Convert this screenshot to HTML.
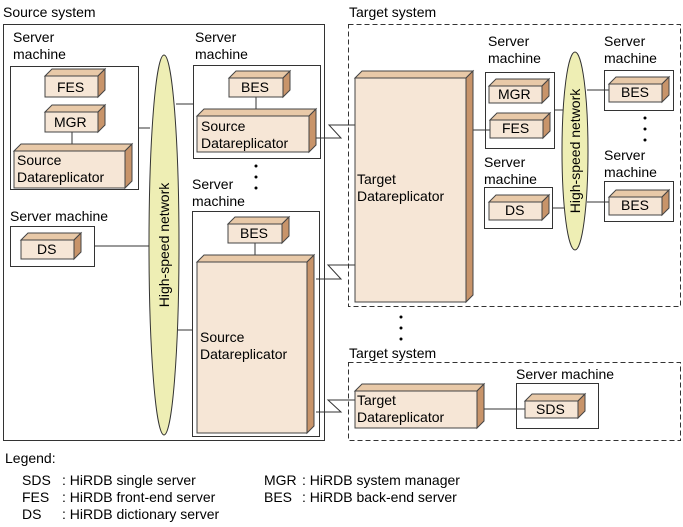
<!DOCTYPE html>
<html><head><style>body{margin:0;background:#fff}svg{display:block}text{font-family:"Liberation Sans",sans-serif;font-size:14px;fill:#000}</style></head><body>
<svg width="683" height="527" viewBox="0 0 683 527" xmlns="http://www.w3.org/2000/svg">
<g stroke="#333" stroke-width="1" fill="none">
<rect x="3.5" y="24.5" width="321" height="416"/>
<rect x="10.5" y="66.5" width="128" height="123"/>
<rect x="10.5" y="226.5" width="84" height="40"/>
<rect x="193.5" y="65.5" width="127" height="93"/>
<rect x="192.5" y="211.5" width="127" height="225"/>
<rect x="348.5" y="24.5" width="332" height="282" stroke-dasharray="5,3"/>
<rect x="348.5" y="362.5" width="332" height="78" stroke-dasharray="5,3"/>
<rect x="485.5" y="72.5" width="69" height="76"/>
<rect x="484.5" y="187.5" width="68" height="41"/>
<rect x="604.5" y="70.5" width="69" height="40"/>
<rect x="604.5" y="181.5" width="69" height="40"/>
<rect x="516.5" y="383.5" width="82" height="45"/>
<path d="M138 128H150M94 246H150M176 104H193M178 330H192M72 132V151M256 97V116M255 243V262M473 130H490M554 110H565M552 208H565M587 90H609M587 202H609M484 409H525"/>
<path d="M316 138H341L329 125H355M316 279H341L328 265H355M316 412H341L328 400H355"/>
</g>
<ellipse cx="164" cy="245" rx="15" ry="190" fill="#eeeeb4" stroke="#333"/>
<ellipse cx="575" cy="151" rx="13" ry="99" fill="#eeeeb4" stroke="#333"/>
<text transform="translate(169,245) rotate(-90)" text-anchor="middle">High-speed network</text>
<text transform="translate(580,151) rotate(-90)" text-anchor="middle">High-speed network</text>
<g stroke="#444" stroke-width="1">
<polygon points="45,76 52,69 105,69 98,76" fill="#e8c9a8"/><polygon points="98,76 105,69 105,90 98,97" fill="#c8946a"/><rect x="45" y="76" width="53" height="21" fill="#f6e6d6"/>
<polygon points="45,112 52,105 105,105 98,112" fill="#e8c9a8"/><polygon points="98,112 105,105 105,125 98,132" fill="#c8946a"/><rect x="45" y="112" width="53" height="20" fill="#f6e6d6"/>
<polygon points="14,151 21,144 132,144 125,151" fill="#e8c9a8"/><polygon points="125,151 132,144 132,181 125,188" fill="#c8946a"/><rect x="14" y="151" width="111" height="37" fill="#f6e6d6"/>
<polygon points="21,240 28,233 81,233 74,240" fill="#e8c9a8"/><polygon points="74,240 81,233 81,252 74,259" fill="#c8946a"/><rect x="21" y="240" width="53" height="19" fill="#f6e6d6"/>
<polygon points="229,78 236,71 290,71 283,78" fill="#e8c9a8"/><polygon points="283,78 290,71 290,90 283,97" fill="#c8946a"/><rect x="229" y="78" width="54" height="19" fill="#f6e6d6"/>
<polygon points="197,116 204,109 316,109 309,116" fill="#e8c9a8"/><polygon points="309,116 316,109 316,145 309,152" fill="#c8946a"/><rect x="197" y="116" width="112" height="36" fill="#f6e6d6"/>
<polygon points="228,224 235,217 289,217 282,224" fill="#e8c9a8"/><polygon points="282,224 289,217 289,236 282,243" fill="#c8946a"/><rect x="228" y="224" width="54" height="19" fill="#f6e6d6"/>
<polygon points="197,262 204,255 314,255 307,262" fill="#e8c9a8"/><polygon points="307,262 314,255 314,426 307,433" fill="#c8946a"/><rect x="197" y="262" width="110" height="171" fill="#f6e6d6"/>
<polygon points="355,78 362,71 473,71 466,78" fill="#e8c9a8"/><polygon points="466,78 473,71 473,295 466,302" fill="#c8946a"/><rect x="355" y="78" width="111" height="224" fill="#f6e6d6"/>
<polygon points="489,86 496,79 549,79 542,86" fill="#e8c9a8"/><polygon points="542,86 549,79 549,96 542,103" fill="#c8946a"/><rect x="489" y="86" width="53" height="17" fill="#f6e6d6"/>
<polygon points="490,120 497,113 550,113 543,120" fill="#e8c9a8"/><polygon points="543,120 550,113 550,131 543,138" fill="#c8946a"/><rect x="490" y="120" width="53" height="18" fill="#f6e6d6"/>
<polygon points="489,202 496,195 549,195 542,202" fill="#e8c9a8"/><polygon points="542,202 549,195 549,213 542,220" fill="#c8946a"/><rect x="489" y="202" width="53" height="18" fill="#f6e6d6"/>
<polygon points="609,84 616,77 669,77 662,84" fill="#e8c9a8"/><polygon points="662,84 669,77 669,95 662,102" fill="#c8946a"/><rect x="609" y="84" width="53" height="18" fill="#f6e6d6"/>
<polygon points="609,197 616,190 669,190 662,197" fill="#e8c9a8"/><polygon points="662,197 669,190 669,208 662,215" fill="#c8946a"/><rect x="609" y="197" width="53" height="18" fill="#f6e6d6"/>
<polygon points="355,391 362,384 484,384 477,391" fill="#e8c9a8"/><polygon points="477,391 484,384 484,421 477,428" fill="#c8946a"/><rect x="355" y="391" width="122" height="37" fill="#f6e6d6"/>
<polygon points="525,401 532,394 585,394 578,401" fill="#e8c9a8"/><polygon points="578,401 585,394 585,411 578,418" fill="#c8946a"/><rect x="525" y="401" width="53" height="17" fill="#f6e6d6"/>
</g>
<g fill="#000">
<circle cx="256" cy="166" r="1.5"/><circle cx="256" cy="177" r="1.5"/><circle cx="256" cy="188" r="1.5"/>
<circle cx="645" cy="118" r="1.5"/><circle cx="645" cy="129" r="1.5"/><circle cx="645" cy="140" r="1.5"/>
<circle cx="401" cy="317" r="1.5"/><circle cx="401" cy="328" r="1.5"/><circle cx="401" cy="339" r="1.5"/>
</g>
<text x="3" y="17">Source system</text>
<text x="13" y="42">Server</text><text x="13" y="59">machine</text>
<text x="57" y="92">FES</text><text x="54" y="127">MGR</text>
<text x="17" y="165">Source</text><text x="17" y="182">Datareplicator</text>
<text x="10" y="221">Server machine</text>
<text x="37" y="254">DS</text>
<text x="195" y="42">Server</text><text x="195" y="59">machine</text>
<text x="241" y="92">BES</text>
<text x="201" y="131">Source</text><text x="201" y="148">Datareplicator</text>
<text x="192" y="189">Server</text><text x="192" y="206">machine</text>
<text x="240" y="238">BES</text>
<text x="200" y="342">Source</text><text x="200" y="359">Datareplicator</text>
<text x="349" y="17">Target system</text>
<text x="357" y="184">Target</text><text x="357" y="201">Datareplicator</text>
<text x="488" y="46">Server</text><text x="488" y="63">machine</text>
<text x="498" y="99">MGR</text><text x="502" y="133">FES</text>
<text x="484" y="167">Server</text><text x="484" y="184">machine</text>
<text x="505" y="215">DS</text>
<text x="604" y="46">Server</text><text x="604" y="63">machine</text>
<text x="621" y="97">BES</text>
<text x="604" y="160">Server</text><text x="604" y="177">machine</text>
<text x="621" y="210">BES</text>
<text x="349" y="358">Target system</text>
<text x="516" y="379">Server machine</text>
<text x="357" y="405">Target</text><text x="357" y="422">Datareplicator</text>
<text x="536" y="414">SDS</text>
<text x="5" y="463">Legend:</text>
<text x="22" y="485">SDS</text><text x="62" y="485">: HiRDB single server</text>
<text x="22" y="502">FES</text><text x="62" y="502">: HiRDB front-end server</text>
<text x="22" y="519">DS</text><text x="62" y="519">: HiRDB dictionary server</text>
<text x="264" y="485">MGR</text><text x="302" y="485">: HiRDB system manager</text>
<text x="264" y="502">BES</text><text x="302" y="502">: HiRDB back-end server</text>
</svg>
</body></html>
